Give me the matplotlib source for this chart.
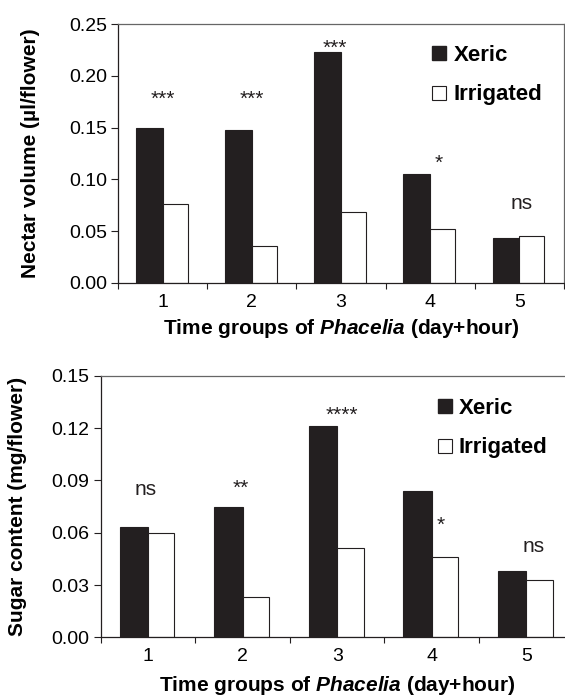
import matplotlib
matplotlib.use('Agg')
import matplotlib.pyplot as plt
from matplotlib.lines import Line2D
import numpy as np

plt.rcParams['font.family'] = ['Liberation Sans', 'DejaVu Sans']
plt.rcParams['mathtext.fontset'] = 'custom'
plt.rcParams['mathtext.rm'] = 'Liberation Sans:bold'
plt.rcParams['mathtext.it'] = 'Liberation Sans:italic:bold'

groups = ['1', '2', '3', '4', '5']

nectar_xeric = [0.150, 0.148, 0.223, 0.105, 0.043]
nectar_irrig = [0.076, 0.036, 0.069, 0.052, 0.045]
nectar_sig = ['***', '***', '***', '*', 'ns']
nectar_sig_x = [1.0, 2.0, 2.93, 4.1, 5.02]
nectar_sig_y = [0.184, 0.184, 0.233, 0.122, 0.077]

sugar_xeric = [0.063, 0.075, 0.121, 0.084, 0.038]
sugar_irrig = [0.060, 0.023, 0.051, 0.046, 0.033]
sugar_sig = ['ns', '**', '****', '*', 'ns']
sugar_sig_x = [0.98, 1.98, 3.05, 4.09, 5.08]
sugar_sig_y = [0.0845, 0.089, 0.131, 0.068, 0.052]

BLACK = '#231f20'
fig = plt.figure(figsize=(5.65, 6.96), dpi=100)
ax1 = fig.add_axes([0.2088, 0.5934, 0.7894, 0.3721])
ax2 = fig.add_axes([0.1782, 0.0843, 0.8372, 0.3759])


def draw(ax, xeric, irrig, sig, sig_x, sig_y, ymax, yticks, ylabel, leg_anchor, xpad):
    x = np.arange(1, len(groups) + 1)
    ax.bar(x, xeric, width=-0.3, align='edge', color=BLACK, edgecolor=BLACK, linewidth=0.8)
    ax.bar(x, irrig, width=0.28, align='edge', color='white', edgecolor=BLACK, linewidth=0.8)
    ax.set_xlim(0.5, len(groups) + 0.5)
    ax.set_ylim(0, ymax)
    ax.set_yticks(yticks)
    ax.set_yticklabels(['%.2f' % v for v in yticks])
    ax.set_xticks(np.arange(0.5, len(groups) + 1, 1.0))
    ax.set_xticklabels([])
    ax.set_xticks(x, minor=True)
    ax.set_xticklabels(groups, minor=True)
    ax.tick_params(axis='x', which='major', length=4, width=0.8, color=BLACK)
    ax.tick_params(axis='x', which='minor', length=0, pad=8, labelsize=14)
    ax.tick_params(axis='y', length=5, width=0.8, pad=3, labelsize=14, color=BLACK)
    for s in ['left', 'bottom']:
        ax.spines[s].set_color(BLACK)
        ax.spines[s].set_linewidth(0.9)
    for s in ['top', 'right']:
        ax.spines[s].set_color('#666666')
        ax.spines[s].set_linewidth(0.9)
    for lab, sx, sy in zip(sig, sig_x, sig_y):
        off = -0.26 * 15 if lab == 'ns' else -0.58 * 15
        ax.annotate(lab, (sx, sy), xytext=(0, off), textcoords='offset points',
                    ha='center', va='baseline', fontsize=15, color=BLACK)
    ax.set_ylabel(ylabel, fontsize=15, fontweight='bold')
    ax.set_xlabel(r'Time groups of $\it{Phacelia}$ (day+hour)', fontsize=15,
                  fontweight='bold', labelpad=xpad)
    handles = [Line2D([], [], ls='none', marker='s', markersize=10,
                      markerfacecolor=BLACK, markeredgecolor=BLACK),
               Line2D([], [], ls='none', marker='s', markersize=10,
                      markerfacecolor='white', markeredgecolor=BLACK, markeredgewidth=0.8)]
    ax.legend(handles, ['Xeric', 'Irrigated'], loc='upper left', bbox_to_anchor=leg_anchor,
              bbox_transform=fig.transFigure, frameon=False, handlelength=0.8,
              handletextpad=0.25, labelspacing=0.82, borderaxespad=0, borderpad=0,
              prop={'weight': 'bold', 'size': 16})


draw(ax1, nectar_xeric, nectar_irrig, nectar_sig, nectar_sig_x, nectar_sig_y,
     0.25, [0.0, 0.05, 0.10, 0.15, 0.20, 0.25], 'Nectar volume (µl/flower)', (0.761, 0.935), 4)
draw(ax2, sugar_xeric, sugar_irrig, sugar_sig, sugar_sig_x, sugar_sig_y,
     0.15, [0.0, 0.03, 0.06, 0.09, 0.12, 0.15], 'Sugar content (mg/flower)', (0.771, 0.428), 6)

ax1.yaxis.set_label_coords(-0.175, 0.5)
ax2.yaxis.set_label_coords(-0.155, 0.5)

fig.savefig('out.png', dpi=100)
